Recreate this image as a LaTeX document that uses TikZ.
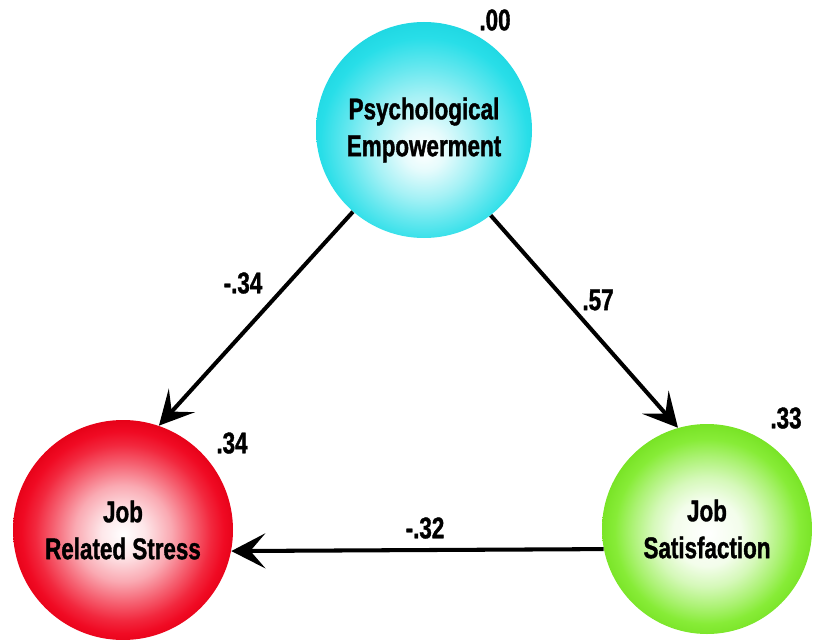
\documentclass[tikz,border=0pt]{standalone}
\usepackage{fontspec}
\setmainfont{Liberation Sans}[FakeStretch=0.75, BoldFeatures={FakeBold=1.2}]
\usetikzlibrary{arrows.meta}

% barvy kruhov
\definecolor{empcol}{RGB}{40,222,232}
\definecolor{empedge}{RGB}{25,210,222}
\definecolor{strcol}{RGB}{240,10,35}
\definecolor{stredge}{RGB}{228,0,22}
\definecolor{satcol}{RGB}{135,236,55}
\definecolor{satedge}{RGB}{118,226,35}

\pgfdeclareradialshading{empshade}{\pgfpoint{0bp}{-5bp}}{color(0bp)=(white); color(5bp)=(white!88!empcol); color(12bp)=(white!58!empcol); color(18bp)=(white!28!empcol); color(24bp)=(empcol); color(30bp)=(empedge); color(50bp)=(empedge)}
\pgfdeclareradialshading{strshade}{\pgfpoint{0bp}{-1bp}}{color(0bp)=(white); color(5bp)=(white!90!strcol); color(11bp)=(white!65!strcol); color(16bp)=(white!35!strcol); color(20bp)=(white!12!strcol); color(23bp)=(strcol); color(26bp)=(stredge); color(50bp)=(stredge)}
\pgfdeclareradialshading{satshade}{\pgfpoint{0bp}{-1bp}}{color(0bp)=(white); color(8bp)=(white!90!satcol); color(13bp)=(white!65!satcol); color(18bp)=(white!30!satcol); color(22bp)=(satcol); color(26bp)=(satedge); color(50bp)=(satedge)}

\tikzset{
  latent/.style={circle, inner sep=0pt, align=center, font=\bfseries\fontsize{17}{21}\selectfont},
  coef/.style={font=\bfseries\fontsize{17}{21}\selectfont},
  path arrow/.style={line width=2.3pt, -{Stealth[length=0.68cm, width=0.7cm, inset=0.3cm]}}
}

\begin{document}
\begin{tikzpicture}
  \useasboundingbox (0,0) rectangle (16.26,12.78);

  % latentne premenne
  \node[latent, minimum size=4.32cm, shading=empshade] (emp) at (8.48,10.18) {Psychological\\Empowerment};
  \node[latent, minimum size=4.4cm, shading=strshade] (stress) at (2.46,2.18) {Job\\Related Stress};
  \node[latent, minimum size=4.2cm, shading=satshade] (sat) at (14.14,2.20) {Job\\Satisfaction};

  % vysvetlena variancia
  \node[coef] (r2emp) at (9.9,12.38) {.00};
  \node[coef] (r2stress) at (4.64,3.92) {.34};
  \node[coef] (r2sat) at (15.72,4.42) {.33};

  % cesty
  \draw[path arrow] (emp.229) -- (stress.71);
  \draw[path arrow] (emp.308) -- (sat.106);
  \draw[path arrow] (sat.191) -- (stress.349);

  % koeficienty ciest
  \node[coef] (pstress) at (4.86,7.12) {-.34};
  \node[coef] (psat) at (11.96,6.78) {.57};
  \node[coef] (psatstress) at (8.5,2.22) {-.32};

\end{tikzpicture}
\end{document}
